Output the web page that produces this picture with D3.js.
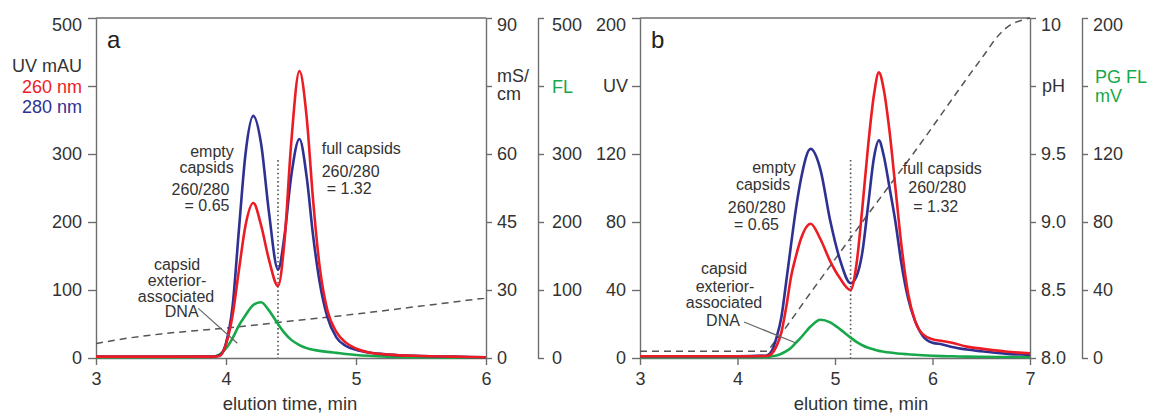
<!doctype html>
<html>
<head>
<meta charset="utf-8">
<script src="https://d3js.org/d3.v7.min.js"></script>
<style>
    body { margin: 0; background: #fff; }
    svg text { font-family: "Liberation Sans", Arial, sans-serif; fill: #333; }
    .axis path, .axis line { stroke: #6e6e6e; stroke-width: 1.4; }
    .axis text { font-size: 18px; }
    .note { font-size: 16px; }
    .frame { stroke: #6e6e6e; stroke-width: 1.4; }
</style>
</head>
<body>
<script>
// ---- panel a : conductivity gradient ----
var timeA  = [3.0, 3.5, 3.9, 3.95, 4.0, 4.05, 4.1, 4.15, 4.21, 4.27, 4.33, 4.4, 4.45, 4.5, 4.565, 4.62, 4.67, 4.72, 4.78, 4.85, 4.92, 5.0, 5.1, 5.25, 5.5, 5.75, 6.0];
var uv280A = [2, 2, 2, 4, 22, 75, 190, 300, 356, 315, 215, 130, 180, 265, 322, 267, 180, 112, 60, 30, 18, 12, 8, 5, 3, 2, 1];
var uv260A = [2, 2, 2, 3, 20, 62, 130, 195, 228, 195, 145, 106, 172, 312, 422, 355, 232, 135, 70, 38, 23, 14, 8, 5, 3, 2, 1];
var flA    = [1, 1, 2, 5, 14, 29, 48, 63, 78, 82, 70, 50, 37, 27, 19, 14.5, 12, 10.5, 9, 7.5, 6, 4.5, 3.2, 2, 1, 0.5, 0.5];
var condTime = [3.0, 3.25, 3.5, 4.0, 4.5, 5.0, 5.5, 6.0];
var condA    = [6.4, 8.8, 10.6, 13.2, 16.3, 19.4, 22.9, 26.5];

var uvTicksA   = [0, 100, 200, 300, 400, 500];
var condTicks  = [0, 30, 45, 60, 75, 90];   // equally spaced on the figure
var flTicksA   = [0, 100, 200, 300, 400, 500];
var xTicksA    = [3, 4, 5, 6];

// ---- panel b : pH gradient ----
var timeB  = [3.0, 3.5, 4.0, 4.3, 4.35, 4.4, 4.45, 4.5, 4.55, 4.6, 4.65, 4.75, 4.85, 4.95, 5.05, 5.16, 5.22, 5.28, 5.34, 5.4, 5.45, 5.5, 5.56, 5.62, 5.68, 5.75, 5.82, 5.9, 6.0, 6.1, 6.2, 6.35, 6.5, 6.75, 7.0];
var uv280B = [1, 1, 1, 1.5, 4, 12, 24, 45, 67, 88, 105, 123, 111, 81, 58, 44, 48, 62, 90, 118, 128, 119, 100, 80, 56, 35, 22, 13, 9, 8, 6.5, 5, 4, 2.6, 1.8];
var uv260B = [1, 1, 1, 1.2, 2.5, 7, 15, 30, 48, 60, 70, 79, 70, 57, 47, 40, 55, 88, 125, 155, 168, 158, 133, 100, 67, 38, 22, 14, 11, 10, 9, 6.7, 5.5, 3.8, 2.7];
var flB    = [0.5, 0.5, 0.5, 0.5, 1, 1.5, 2.5, 4, 6, 9, 12, 18.5, 22.5, 21, 17, 12, 9.5, 7.5, 6, 5, 4.2, 3.7, 3.2, 2.8, 2.5, 2.2, 1.9, 1.6, 1.3, 1.1, 1, 0.8, 0.7, 0.6, 0.5];
var phTime = [3.0, 4.3, 4.36, 4.77, 5.28, 5.8, 6.5, 6.7, 6.8, 6.9, 7.0];
var phB    = [8.05, 8.05, 8.10, 8.5, 9.0, 9.5, 9.85, 9.945, 9.975, 9.99, 10.0];

var uvTicksB = [0, 40, 80, 120, 160, 200];
var phTicks  = [8.0, 8.5, 9.0, 9.5, 9.75, 10];  // "pH" sits on the 5th tick
var flTicksB = [0, 40, 80, 120, 160, 200];
var xTicksB  = [3, 4, 5, 6, 7];

var red = "#ec1c24", blue = "#2e3192", green = "#16a84a", grey = "#555";

var width = 1151, height = 414,
    yTop = 18, yBot = 358;

var svg = d3.select("body").append("svg")
    .attr("width", width)
    .attr("height", height);

// tick positions are even on the figure, so right axes are piecewise scales
var tickPos = d3.range(6).map(function (i) { return yBot - i * (yBot - yTop) / 5; });

function lowerTop(g, top) {
    g.selectAll(".tick text").filter(function (d) { return d === top; }).attr("dy", "0.68em");
}

function drawPanel(p) {
    var x = d3.scaleLinear().domain(p.xDomain).range([p.x0, p.x1]);
    var y = d3.scaleLinear().domain([0, p.uvTicks[5]]).range([yBot, yTop]);
    var yR = d3.scaleLinear().domain(p.rTicks).range(tickPos);
    var yF = d3.scaleLinear().domain([0, p.flTicks[5]]).range([yBot, yTop]);

    // frame top
    svg.append("line").attr("class", "frame")
        .attr("x1", p.x0).attr("x2", p.x1).attr("y1", yTop).attr("y2", yTop);

    svg.append("g").attr("class", "axis")
        .attr("transform", "translate(0," + yBot + ")")
        .call(d3.axisBottom(x).tickValues(p.xTicks).tickSize(7).tickSizeOuter(0).tickPadding(7).tickFormat(d3.format("d")));

    var gl = svg.append("g").attr("class", "axis")
        .attr("transform", "translate(" + p.x0 + ",0)")
        .call(d3.axisLeft(y).tickValues(p.uvTicks).tickSize(8).tickSizeOuter(0).tickPadding(6)
            .tickFormat(function (d, i) { return i === 4 ? "" : d; }));
    lowerTop(gl, p.uvTicks[5]);

    var gr = svg.append("g").attr("class", "axis")
        .attr("transform", "translate(" + p.x1 + ",0)")
        .call(d3.axisRight(yR).tickValues(p.rTicks).tickSize(6).tickSizeOuter(0).tickPadding(5)
            .tickFormat(function (d, i) { return i === 4 ? "" : p.rFormat(d); }));
    lowerTop(gr, p.rTicks[5]);

    var gf = svg.append("g").attr("class", "axis")
        .attr("transform", "translate(" + p.xFL + ",0)")
        .call(d3.axisRight(yF).tickValues(p.flTicks).tickSize(6).tickSizeOuter(0).tickPadding(p.flPad)
            .tickFormat(function (d, i) { return i === 4 ? "" : d; }));
    lowerTop(gf, p.flTicks[5]);

    // gradient (dashed)
    var grad = d3.line()
        .x(function (d) { return x(d[0]); })
        .y(function (d) { return yR(d[1]); })
        .curve(d3.curveMonotoneX);
    svg.append("path")
        .datum(d3.zip(p.gradTime, p.gradValues))
        .attr("d", grad)
        .attr("fill", "none").attr("stroke", grey).attr("stroke-width", 1.5)
        .attr("stroke-dasharray", "7,5");

    // dotted divider
    svg.append("line")
        .attr("x1", x(p.divide)).attr("x2", x(p.divide))
        .attr("y1", y(p.divideTop)).attr("y2", yBot)
        .attr("stroke", grey).attr("stroke-width", 1.6).attr("stroke-dasharray", "1.6,2.6");

    var line = d3.line()
        .x(function (d) { return x(d[0]); })
        .y(function (d) { return y(d[1]); })
        .curve(d3.curveMonotoneX);
    var lineF = d3.line()
        .x(function (d) { return x(d[0]); })
        .y(function (d) { return yF(d[1]); })
        .curve(d3.curveMonotoneX);

    svg.append("path").datum(d3.zip(p.time, p.fl)).attr("d", lineF)
        .attr("fill", "none").attr("stroke", green).attr("stroke-width", 2.6);
    svg.append("path").datum(d3.zip(p.time, p.uv280)).attr("d", line)
        .attr("fill", "none").attr("stroke", blue).attr("stroke-width", 2.6);
    svg.append("path").datum(d3.zip(p.time, p.uv260)).attr("d", line)
        .attr("fill", "none").attr("stroke", red).attr("stroke-width", 2.6);

    // leader line to DNA peak
    svg.append("line")
        .attr("x1", x(p.leader[0])).attr("y1", y(p.leader[1]))
        .attr("x2", x(p.leader[2])).attr("y2", y(p.leader[3]))
        .attr("stroke", "#666").attr("stroke-width", 1.2);

    svg.append("text")
        .attr("x", p.x0 + 11).attr("y", 48)
        .style("font-size", "24px").style("fill", "#222")
        .text(p.letter);

    svg.append("text")
        .attr("x", p.xTitle).attr("y", 410)
        .attr("text-anchor", "middle")
        .style("font-size", "18.5px")
        .text("elution time, min");
}

function note(lines, size) {
    lines.forEach(function (l) {
        var t = svg.append("text").attr("class", "note")
            .attr("x", l[1]).attr("y", l[2])
            .attr("text-anchor", l[3] || "middle")
            .style("fill", l[4] || "#333")
            .text(l[0]);
        if (size) t.style("font-size", size);
    });
}

drawPanel({
    letter: "a", xDomain: [3, 6], x0: 96, x1: 486, xFL: 538, flPad: 8,
    xTicks: xTicksA, uvTicks: uvTicksA, rTicks: condTicks, flTicks: flTicksA,
    rFormat: function (d) { return d; },
    time: timeA, uv260: uv260A, uv280: uv280A, fl: flA,
    gradTime: condTime, gradValues: condA,
    divide: 4.4, divideTop: 291,
    leader: [3.787, 73, 4.087, 21.6],
    xTitle: 290
});

drawPanel({
    letter: "b", xDomain: [3, 7], x0: 640, x1: 1030, xFL: 1082, flPad: 5,
    xTicks: xTicksB, uvTicks: uvTicksB, rTicks: phTicks, flTicks: flTicksB,
    rFormat: function (d) { return d === 10 ? "10" : d.toFixed(1); },
    time: timeB, uv260: uv260B, uv280: uv280B, fl: flB,
    gradTime: phTime, gradValues: phB,
    divide: 5.16, divideTop: 116.5,
    leader: [4.067, 21.2, 4.6, 8.8],
    xTitle: 861
});

// axis titles
note([
    ["UV mAU", 82, 71.5, "end", "#333"],
    ["260 nm", 82, 92.5, "end", red],
    ["280 nm", 82, 113, "end", blue],
    ["mS/", 497, 81.5, "start"],
    ["cm", 497, 100, "start"],
    ["FL", 552, 93, "start", green],
    ["UV", 628, 92, "end"],
    ["pH", 1042, 92, "start"],
    ["PG FL", 1095, 83, "start", green],
    ["mV", 1095, 101.5, "start", green]
], "18px");

// annotations, panel a
note([
    ["empty", 212, 157], ["capsids", 206.5, 172.5], ["260/280", 200.5, 195], ["= 0.65", 207, 210.5],
    ["full capsids", 321.7, 154, "start"], ["260/280", 321.7, 176.7, "start"], ["= 1.32", 326.7, 194, "start"],
    ["capsid", 177, 269.5], ["exterior-", 177, 285.5], ["associated", 176, 301.5], ["DNA", 181.7, 317]
]);
// annotations, panel b
note([
    ["empty", 774, 172.7], ["capsids", 763, 190], ["260/280", 756.7, 212.7], ["= 0.65", 756.5, 230],
    ["full capsids", 902.7, 174, "start"], ["260/280", 908.3, 193.3, "start"], ["= 1.32", 913.3, 211.7, "start"],
    ["capsid", 724, 274], ["exterior-", 725, 291.7], ["associated", 724, 308], ["DNA", 723, 326]
]);
</script>
</body>
</html>
